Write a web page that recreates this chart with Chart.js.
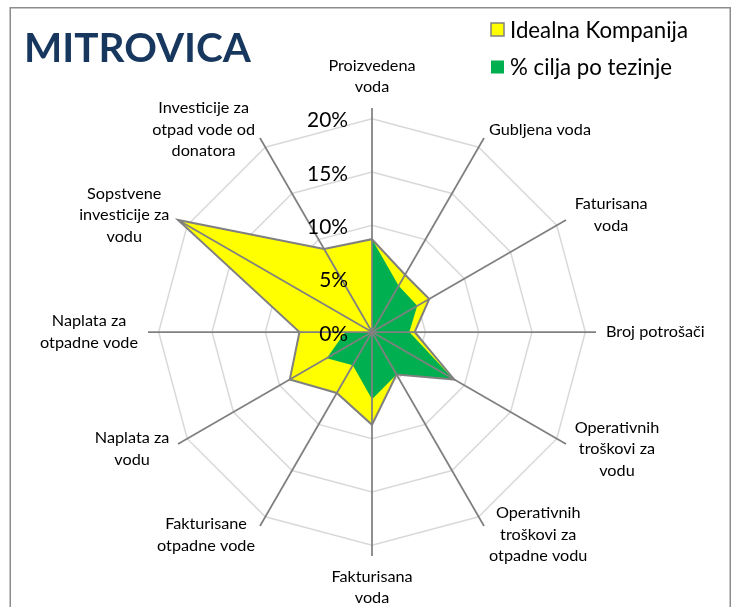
<!DOCTYPE html>
<html>
<head>
<meta charset="utf-8">
<script src="https://cdn.jsdelivr.net/npm/chart.js@4.4.1/dist/chart.umd.min.js"></script>
<style>
html,body{margin:0;padding:0;background:#fff;}
#wrap{width:738px;height:607px;position:relative;}
</style>
</head>
<body>
<div id="wrap"><canvas id="c" width="738" height="607"></canvas></div>
<script>
// ---- data ----
const chartTitle = 'MITROVICA';
const categories = [
  ['Proizvedena', 'voda'],
  ['Gubljena voda'],
  ['Faturisana', 'voda'],
  ['Broj potrošači'],
  ['Operativnih', 'troškovi za', 'vodu'],
  ['Operativnih', 'troškovi za', 'otpadne vodu'],
  ['Fakturisana', 'voda'],
  ['Fakturisane', 'otpadne vode'],
  ['Naplata za', 'vodu'],
  ['Naplata za', 'otpadne vode'],
  ['Sopstvene', 'investicije za', 'vodu'],
  ['Investicije za', 'otpad vode od', 'donatora']
];
const seriesNames = ['Idealna Kompanija', '% cilja po tezinje'];
const idealna = [0.087, 0.062, 0.062, 0.040, 0.089, 0.046, 0.087, 0.066, 0.089, 0.068, 0.210, 0.090];
const cilja   = [0.087, 0.050, 0.049, 0.035, 0.088, 0.046, 0.063, 0.036, 0.049, 0.025, 0.000, 0.000];
const tickValues = [0, 0.05, 0.10, 0.15, 0.20];
const tickLabels = ['0%', '5%', '10%', '15%', '20%'];
const axisMax = 0.21;

// ---- styling helpers ----
const FONT = 'Lato, "Open Sans", "Liberation Sans", sans-serif';
const YELLOW = '#FFFF00', GREEN = '#00B050', GRAY = '#808080';
function fitSize(ctx, text, weight, target) {
  ctx.font = weight + ' 100px ' + FONT;
  return 100 * target / ctx.measureText(text).width;
}

const deco = {
  id: 'deco',
  beforeDraw(chart) {
    const ctx = chart.ctx;
    ctx.save();
    ctx.fillStyle = '#ffffff';
    ctx.fillRect(0, 0, chart.width, chart.height);
    ctx.strokeStyle = '#8c8c8c';
    ctx.lineWidth = 1.5;
    ctx.strokeRect(10.25, 7.75, 720, 700);
    ctx.restore();
  },
  afterDatasetsDraw(chart) {
    const ctx = chart.ctx, s = chart.scales.r;
    const n = chart.data.labels.length;
    ctx.save();
    // spokes
    ctx.strokeStyle = GRAY;
    ctx.lineWidth = 1.75;
    for (let i = 0; i < n; i++) {
      const p = s.getPointPosition(i, s.drawingArea);
      ctx.beginPath();
      ctx.moveTo(s.xCenter, s.yCenter);
      ctx.lineTo(p.x, p.y);
      ctx.stroke();
    }
    // tick labels
    const tSize = fitSize(ctx, '20%', 'normal', 41);
    ctx.font = tSize.toFixed(2) + 'px ' + FONT;
    ctx.fillStyle = '#000';
    ctx.textAlign = 'right';
    ctx.textBaseline = 'middle';
    tickValues.forEach((v, k) => {
      const d = s.getDistanceFromCenterForValue(v);
      ctx.fillText(tickLabels[k], s.xCenter - 24, s.yCenter - d + 2);
    });
    // point labels
    const pSize = fitSize(ctx, 'otpadne vode', 'normal', 98);
    ctx.font = pSize.toFixed(2) + 'px ' + FONT;
    ctx.textAlign = 'center';
    ctx.textBaseline = 'middle';
    const LH = 21.5;
    chart.data.labels.forEach((lines, i) => {
      const ang = Math.round(i * 360 / n) % 360;
      const p = s.getPointPosition(i, s.drawingArea + 10);
      const w = Math.max(...lines.map(t => ctx.measureText(t).width));
      const h = lines.length * LH;
      let cx, cy;
      if (ang === 0) { cx = p.x; cy = p.y - h / 2; }
      else if (ang === 180) { cx = p.x; cy = p.y + h / 2; }
      else if (ang < 180) { cx = p.x + w / 2; cy = p.y; }
      else { cx = p.x - w / 2; cy = p.y; }
      lines.forEach((t, j) => ctx.fillText(t, cx, cy + (j - (lines.length - 1) / 2) * LH));
    });
    ctx.restore();
  },
  afterDraw(chart) {
    const ctx = chart.ctx;
    ctx.save();
    // title
    const ttl = fitSize(ctx, chartTitle, 'bold', 227);
    ctx.font = 'bold ' + ttl.toFixed(2) + 'px ' + FONT;
    ctx.fillStyle = '#17375E';
    ctx.textAlign = 'left';
    ctx.textBaseline = 'alphabetic';
    ctx.fillText(chartTitle, 24, 62);
    // legend
    const lSize = fitSize(ctx, seriesNames[0], 'normal', 178);
    ctx.font = lSize.toFixed(2) + 'px ' + FONT;
    ctx.textBaseline = 'middle';
    ctx.fillStyle = '#000';
    const ds = chart.data.datasets;
    const rows = [29.5, 67];
    ds.forEach((d, k) => {
      const y = rows[k];
      ctx.fillStyle = d.backgroundColor;
      ctx.fillRect(491, y - 6.5, 13, 13);
      if (d.borderWidth > 0) {
        ctx.strokeStyle = d.borderColor;
        ctx.lineWidth = 1.5;
        ctx.strokeRect(491, y - 6.5, 13, 13);
      }
      ctx.fillStyle = '#000';
      ctx.fillText(d.label, 510, y + 1);
    });
    ctx.restore();
  }
};

new Chart(document.getElementById('c'), {
  type: 'radar',
  data: {
    labels: categories,
    datasets: [
      { label: seriesNames[0], data: idealna, backgroundColor: YELLOW, borderColor: GRAY, borderWidth: 2,
        pointRadius: 0, pointHoverRadius: 0, fill: true, order: 1 },
      { label: seriesNames[1], data: cilja, backgroundColor: GREEN, borderColor: 'rgba(0,0,0,0)', borderWidth: 0,
        pointRadius: 0, pointHoverRadius: 0, fill: true, order: 0 }
    ]
  },
  options: {
    responsive: false,
    animation: false,
    devicePixelRatio: 1,
    layout: { padding: { left: 148, top: 108, right: 142, bottom: 51 } },
    plugins: {
      legend: { display: false },
      title: { display: false },
      tooltip: { enabled: false },
      filler: { drawTime: 'beforeDatasetsDraw' }
    },
    scales: {
      r: {
        min: 0,
        max: axisMax,
        afterBuildTicks: sc => { sc.ticks = tickValues.map(v => ({ value: v })); },
        ticks: { display: false },
        grid: { circular: false, color: '#d9d9d9', lineWidth: 1.5 },
        angleLines: { display: false },
        pointLabels: { display: false }
      }
    }
  },
  plugins: [deco]
});
</script>
</body>
</html>
